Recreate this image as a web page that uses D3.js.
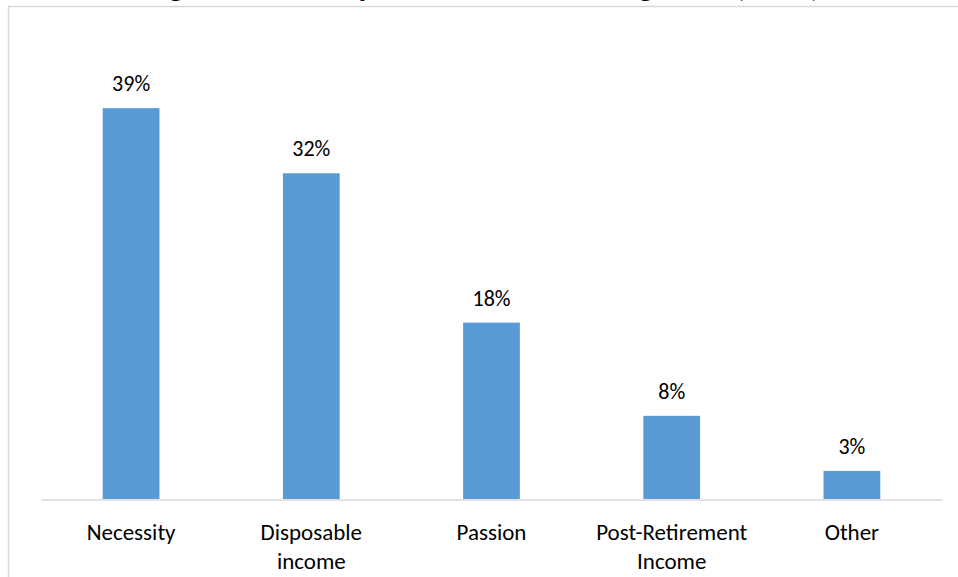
<!DOCTYPE html>
<html>
<head>
<meta charset="utf-8">
<script src="https://cdn.jsdelivr.net/npm/d3@7/dist/d3.min.js"></script>
<style>
  html, body { margin: 0; padding: 0; background: #ffffff; overflow: hidden; }
  svg { display: block; }
  text { font-family: Carlito, Calibri, Lato, "Liberation Sans", sans-serif; fill: #000; }
</style>
</head>
<body>
<script>
const titleText = "Figure 2: Primary Reasons for Working Later (2018)";
const categories = ["Necessity", "Disposable income", "Passion", "Post-Retirement Income", "Other"];
const values = [39, 32.5, 17.6, 8.3, 2.8];
const valueLabels = ["39%", "32%", "18%", "8%", "3%"];

const W = 958, H = 577;
const svg = d3.select("body").append("svg").attr("width", W).attr("height", H);

// chart area border (partially outside view)
svg.append("rect")
  .attr("x", 8.5).attr("y", 6.5)
  .attr("width", 960).attr("height", 620)
  .attr("fill", "#fff").attr("stroke", "#d9d9d9").attr("stroke-width", 1.5);

// title (cropped at the top of the picture, as in the reference)
svg.append("text")
  .attr("x", 483).attr("y", -4)
  .attr("text-anchor", "middle")
  .style("font-size", "32px").style("font-weight", "bold")
  .text(titleText);

const x = d3.scaleBand().domain(categories).range([41, 942]).paddingInner(0.685).paddingOuter(0.3425);
const y = d3.scaleLinear().domain([0, 45]).range([499, 48]);

svg.selectAll("rect.bar").data(categories).join("rect")
  .attr("class", "bar")
  .attr("x", d => x(d))
  .attr("y", (d, i) => y(values[i]))
  .attr("width", x.bandwidth())
  .attr("height", (d, i) => y(0) - y(values[i]))
  .attr("fill", "#5b9bd5");

// axis line
const xAxis = d3.axisBottom(x).tickSize(0).tickFormat("");
const gx = svg.append("g").attr("transform", `translate(0,${y(0) + 0.5})`).call(xAxis);
gx.select(".domain").attr("stroke", "#d9d9d9").attr("stroke-width", 1.5);

// data labels
svg.selectAll("text.val").data(categories).join("text")
  .attr("class", "val")
  .attr("x", d => x(d) + x.bandwidth() / 2)
  .attr("y", (d, i) => y(values[i]) - 17)
  .attr("text-anchor", "middle")
  .style("font-size", "22px")
  .text((d, i) => valueLabels[i]);

// category labels with wrapping
const maxW = 165;
categories.forEach(cat => {
  const cx = x(cat) + x.bandwidth() / 2;
  const t = svg.append("text")
    .attr("x", cx)
    .attr("y", 540)
    .attr("text-anchor", "middle")
    .style("font-size", "23px");
  const words = cat.split(" ");
  let line = [];
  let ts = t.append("tspan").attr("x", cx).attr("dy", 0);
  words.forEach(w => {
    line.push(w);
    ts.text(line.join(" "));
    if (ts.node().getComputedTextLength() > maxW && line.length > 1) {
      line.pop();
      ts.text(line.join(" "));
      line = [w];
      ts = t.append("tspan").attr("x", cx).attr("dy", 29).text(w);
    }
  });
});
</script>
</body>
</html>
